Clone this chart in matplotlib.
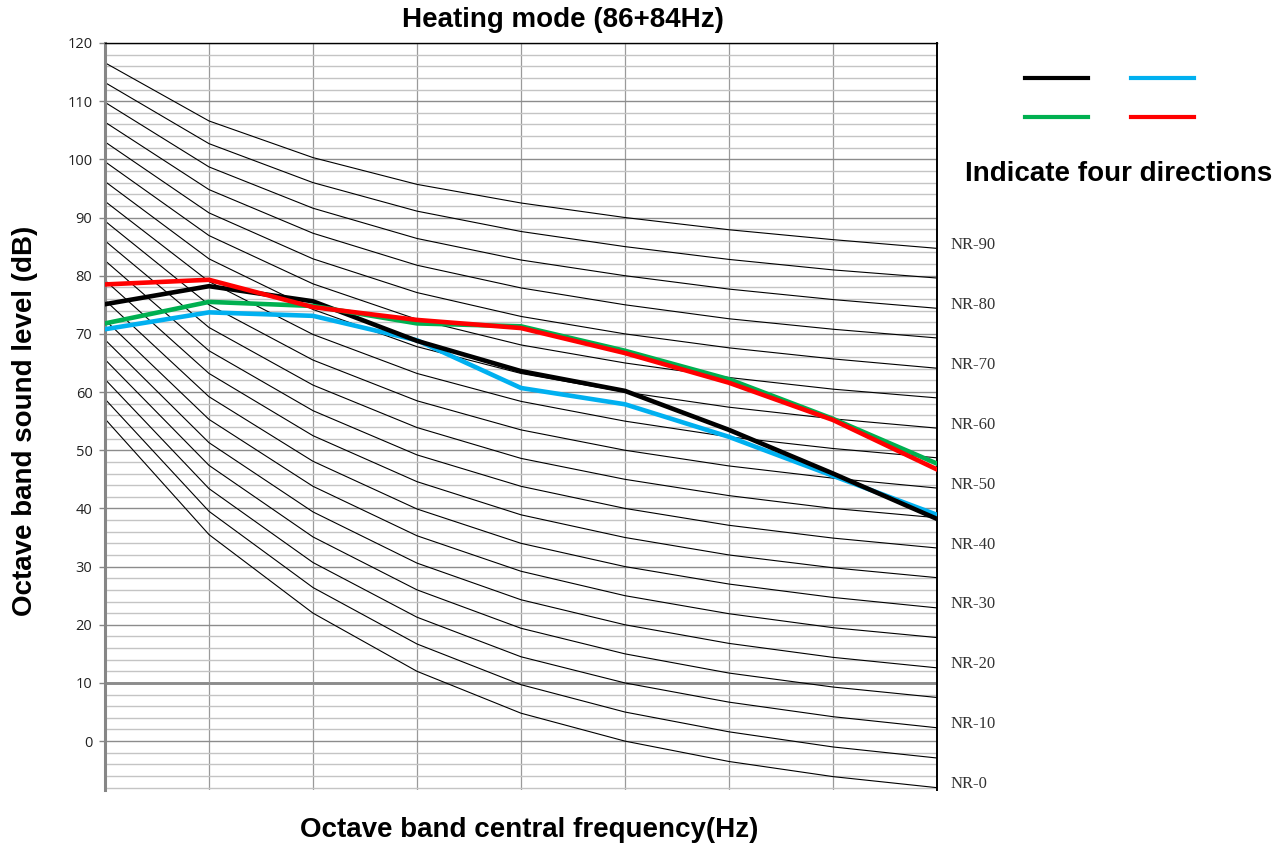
# -*- coding: utf-8 -*-
"""NR curves + measured octave band levels, heating mode (86+84Hz)."""
import matplotlib; matplotlib.use('Agg')
import matplotlib.pyplot as plt
from matplotlib.lines import Line2D

# octave bands (Hz) -> equally spaced on the x axis, no tick labels shown
bands = ['31.5', '63', '125', '250', '500', '1k', '2k', '4k', '8k']

# NR curve levels (dB), one list per band, NR-0 ... NR-90 in steps of 5
nr_levels = [0, 5, 10, 15, 20, 25, 30, 35, 40, 45, 50, 55, 60, 65, 70, 75, 80, 85, 90]
nr_31_5 = [55.4, 58.8, 62.2, 65.6, 69.0, 72.4, 75.8, 79.2, 82.6, 86.0, 89.4, 92.8, 96.2,
           99.6, 103.0, 106.4, 109.8, 113.2, 116.6]
nr_63 = [35.5, 39.5, 43.4, 47.4, 51.3, 55.3, 59.2, 63.2, 67.1, 71.1, 75.0, 79.0, 82.9,
         86.9, 90.8, 94.8, 98.7, 102.7, 106.6]
nr_125 = [22.0, 26.4, 30.7, 35.1, 39.4, 43.8, 48.1, 52.5, 56.8, 61.2, 65.5, 69.9, 74.2,
          78.6, 82.9, 87.3, 91.6, 96.0, 100.3]
nr_250 = [12.0, 16.7, 21.3, 26.0, 30.6, 35.3, 39.9, 44.6, 49.2, 53.9, 58.5, 63.2, 67.8,
          72.5, 77.1, 81.8, 86.4, 91.1, 95.7]
nr_500 = [4.8, 9.7, 14.5, 19.4, 24.3, 29.2, 34.0, 38.9, 43.8, 48.6, 53.5, 58.4, 63.2,
          68.1, 73.0, 77.9, 82.7, 87.6, 92.5]
nr_1k = [0, 5, 10, 15, 20, 25, 30, 35, 40, 45, 50, 55, 60, 65, 70, 75, 80, 85, 90]
nr_2k = [-3.5, 1.6, 6.7, 11.7, 16.8, 21.9, 27.0, 32.0, 37.1, 42.2, 47.3, 52.3, 57.4,
         62.5, 67.6, 72.6, 77.7, 82.8, 87.9]
nr_4k = [-6.1, -1.0, 4.2, 9.3, 14.4, 19.5, 24.7, 29.8, 34.9, 40.0, 45.2, 50.3, 55.4,
         60.5, 65.7, 70.8, 75.9, 81.0, 86.2]
nr_8k = [-8.0, -2.9, 2.3, 7.5, 12.6, 17.8, 22.9, 28.1, 33.2, 38.4, 43.5, 48.7, 53.8,
         59.0, 64.1, 69.3, 74.4, 79.6, 84.7]

# measured levels, four directions (dB)
dir_black = [75.1, 78.2, 75.6, 68.8, 63.6, 60.2, 53.5, 46.0, 38.2]
dir_blue = [70.8, 73.7, 73.1, 68.9, 60.7, 57.9, 52.3, 45.6, 38.9]
dir_green = [71.8, 75.5, 74.8, 71.8, 71.3, 67.1, 62.2, 55.4, 47.7]
dir_red = [78.5, 79.3, 74.6, 72.4, 71.0, 66.7, 61.6, 55.2, 46.7]

plt.rcParams['font.family'] = ['Liberation Sans', 'DejaVu Sans']

fig = plt.figure(figsize=(12.88, 8.49), dpi=100)
ax = fig.add_axes([105 / 1288, 1 - 790 / 849, 832 / 1288, 747 / 849])

x = list(range(len(bands)))
ax.set_xlim(0, len(bands) - 1)
ax.set_ylim(-8.4, 120)

# grid
ax.set_yticks(range(0, 121, 10))
ax.set_yticks(range(-8, 121, 2), minor=True)
ax.set_xticks(x[1:-1])
ax.set_xticklabels([])
ax.grid(which='minor', axis='y', color='#c4c4c4', lw=1.0, zorder=0)
ax.grid(which='major', axis='y', color='#8c8c8c', lw=1.0, zorder=0)
ax.grid(which='major', axis='x', color='#9a9a9a', lw=0.9, zorder=0)
ax.axhline(10, color='#858585', lw=2.0, zorder=0.5)
ax.tick_params(axis='x', length=0)
ax.tick_params(axis='y', which='major', length=4, width=1, color='#868686',
               direction='out', pad=5, labelsize=10.5, labelcolor='#222222')
ax.tick_params(axis='y', which='minor', length=0)
for lab in ax.get_yticklabels():
    lab.set_family('Open Sans')

ax.spines['bottom'].set_visible(False)
ax.spines['left'].set_color('#868686'); ax.spines['left'].set_linewidth(2.2)
ax.spines['top'].set_color('black'); ax.spines['top'].set_linewidth(1.0)
ax.spines['right'].set_color('black'); ax.spines['right'].set_linewidth(1.4)

# NR curves
bands_cols = [nr_31_5, nr_63, nr_125, nr_250, nr_500, nr_1k, nr_2k, nr_4k, nr_8k]
for i, nr in enumerate(nr_levels):
    ys = [col[i] for col in bands_cols]
    ax.plot(x, ys, color='black', lw=0.8, zorder=2)
    if nr % 10 == 0:
        ax.annotate('NR-%d' % nr, xy=(x[-1], ys[-1]), xytext=(10, 2.5),
                    textcoords='offset points', va='center', ha='left',
                    fontsize=12, family='Liberation Serif', color='#333333',
                    annotation_clip=False)

# measured curves
for ys, c in [(dir_blue, '#00B0F0'), (dir_black, 'black'),
              (dir_green, '#00B050'), (dir_red, '#FF0000')]:
    ax.plot(x, ys, color=c, lw=3.3, zorder=3, solid_joinstyle='round')

fig.text(563 / 1288, 1 - 20 / 849, 'Heating mode (86+84Hz)', ha='center', va='center',
         fontsize=20, fontweight='bold')
fig.text(529 / 1288, 1 - 830 / 849, 'Octave band central frequency(Hz)', ha='center',
         va='center', fontsize=20, fontweight='bold')
fig.text(0.0194, 1 - 421 / 849, 'Octave band sound level (dB)', ha='center', va='center',
         rotation=90, fontsize=20, fontweight='bold')

# legend swatches (no labels) + caption
for (x0, x1, yy, c) in [(1025, 1088, 78, 'black'), (1131, 1194, 78, '#00B0F0'),
                        (1025, 1088, 117, '#00B050'), (1131, 1194, 117, '#FF0000')]:
    fig.add_artist(Line2D([x0 / 1288, x1 / 1288], [1 - yy / 849, 1 - yy / 849],
                          color=c, lw=3.0, transform=fig.transFigure))
fig.text(1118.5 / 1288, 1 - 174 / 849, 'Indicate four directions', ha='center',
         va='center', fontsize=20, fontweight='bold')

fig.savefig('out.png', dpi=100)
